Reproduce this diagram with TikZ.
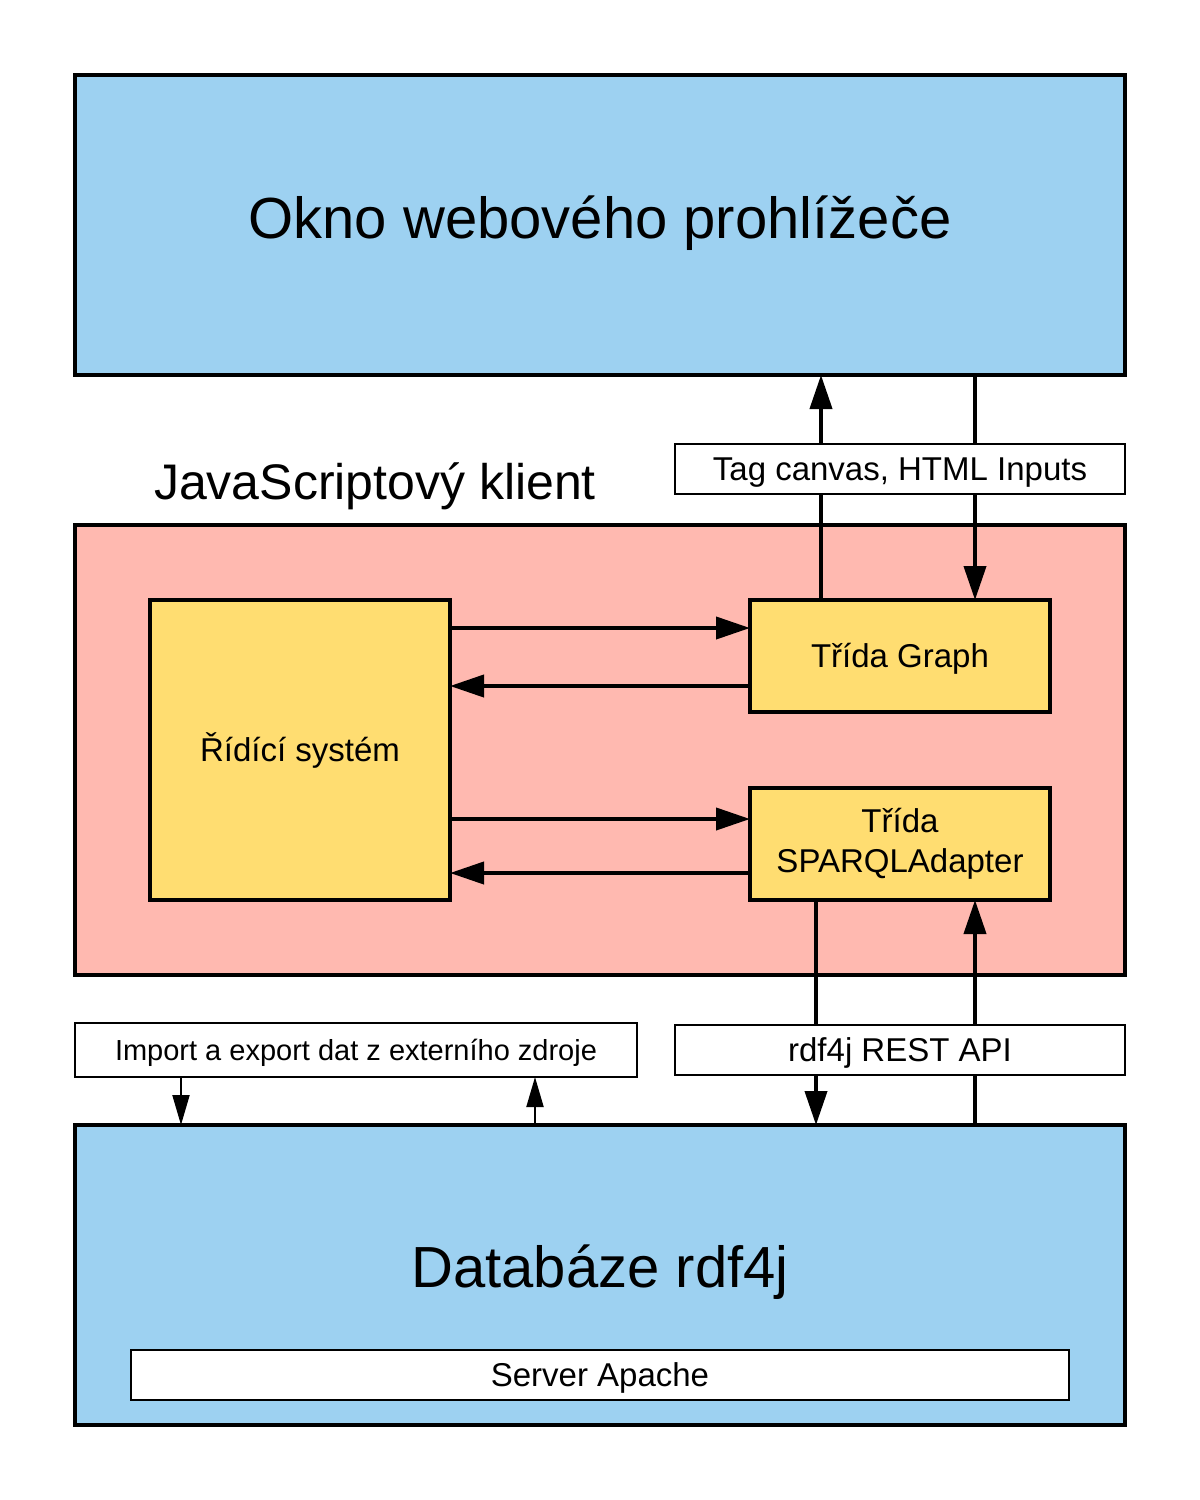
\documentclass[tikz,border=0pt]{standalone}
\usepackage{fontspec}
\setmainfont{Liberation Sans}
\usetikzlibrary{arrows.meta}
\definecolor{skyb}{HTML}{9DD1F1}
\definecolor{pinkb}{HTML}{FFB9B0}
\definecolor{yelb}{HTML}{FFDD71}
\begin{document}
\begin{tikzpicture}[x=1pt,y=-1pt,
  box/.style={draw=black,line width=4pt,inner sep=0pt,outer sep=0pt},
  lbl/.style={draw=black,fill=white,line width=2pt,inner sep=0pt,outer sep=0pt,minimum height=50pt},
  f33/.style={font=\fontsize{33}{40}\selectfont,text height=23.6pt,text depth=0pt},
  big/.style={font=\fontsize{58}{66}\selectfont,anchor=base,inner sep=0pt},
  arr/.style={line width=4pt,-{Triangle[length=34pt,width=22pt]}},
  ln/.style={line width=4pt},
  thinarr/.style={line width=2pt,-{Triangle[length=30pt,width=17pt]}}
]
\useasboundingbox (0,0) rectangle (1200,1500);
% main boxes
\node[box,fill=skyb,minimum width=1050pt,minimum height=300pt] (top) at (600,225) {};
\node[big] (toptext) at (600,238) {Okno webového prohlížeče};
\node[box,fill=pinkb,minimum width=1050pt,minimum height=450pt] (client) at (600,750) {};
\node[font=\fontsize{50}{60}\selectfont,anchor=base,inner sep=0pt] (clienttext) at (375,499) {JavaScriptový klient};
\node[box,fill=yelb,minimum width=300pt,minimum height=300pt,f33] (ridici) at (300,750) {Řídící systém};
\node[box,fill=yelb,minimum width=300pt,minimum height=112pt,f33] (graph) at (900,656) {Třída Graph};
\node[box,fill=yelb,minimum width=300pt,minimum height=112pt,font=\fontsize{33}{40}\selectfont,align=center] (sparql) at (900,844) {Třída\\SPARQLAdapter};
\node[box,fill=skyb,minimum width=1050pt,minimum height=300pt] (db) at (600,1275) {};
\node[big] (dbtext) at (600,1287) {Databáze rdf4j};
\node[lbl,minimum width=938pt,f33] (apache) at (600,1375) {Server Apache};
% label boxes
\node[lbl,minimum width=450pt,f33] (tag) at (900,469) {Tag canvas, HTML Inputs};
\node[lbl,minimum width=450pt,f33] (rest) at (900,1050) {rdf4j REST API};
\node[lbl,minimum width=562pt,minimum height=54pt,font=\fontsize{29}{35}\selectfont,text height=20.8pt,text depth=0pt] (import) at (356,1050) {Import a export dat z externího zdroje};
% x / y guides
\coordinate (xa) at (821,0);
\coordinate (xb) at (975,0);
\coordinate (xc) at (816,0);
\coordinate (xd) at (181,0);
\coordinate (xe) at (535,0);
\coordinate (ya) at (0,628);
\coordinate (yb) at (0,686);
\coordinate (yc) at (0,819);
\coordinate (yd) at (0,873);
% Graph <-> browser window
\draw[ln] (graph.north -| xa) -- (tag.south -| xa);
\draw[arr] (tag.north -| xa) -- (top.south -| xa);
\draw[ln] (top.south -| xb) -- (tag.north -| xb);
\draw[arr] (tag.south -| xb) -- (graph.north -| xb);
% control system <-> classes
\draw[arr] (ridici.east |- ya) -- (graph.west |- ya);
\draw[arr] (graph.west |- yb) -- (ridici.east |- yb);
\draw[arr] (ridici.east |- yc) -- (sparql.west |- yc);
\draw[arr] (sparql.west |- yd) -- (ridici.east |- yd);
% SPARQLAdapter <-> database
\draw[ln] (sparql.south -| xc) -- (rest.north -| xc);
\draw[arr] (rest.south -| xc) -- (db.north -| xc);
\draw[ln] (db.north -| xb) -- (rest.south -| xb);
\draw[arr] (rest.north -| xb) -- (sparql.south -| xb);
% import / export
\draw[thinarr] (import.south -| xd) -- (db.north -| xd);
\draw[thinarr] (db.north -| xe) -- (import.south -| xe);
\end{tikzpicture}
\end{document}
